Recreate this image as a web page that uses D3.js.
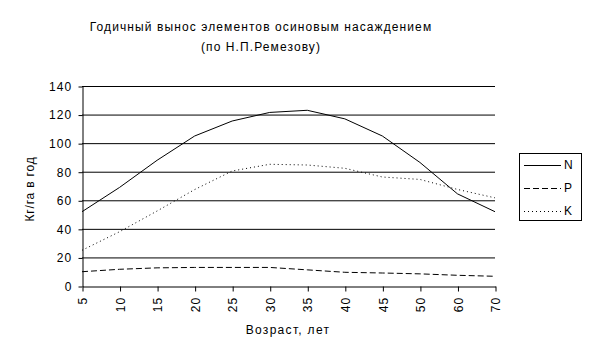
<!DOCTYPE html>
<html><head><meta charset="utf-8">
<script src="https://cdn.jsdelivr.net/npm/d3@7"></script>
<style>
body{margin:0;background:#fff;}
svg{display:block;font-family:Arial,"Liberation Sans",sans-serif;}
</style></head>
<body>
<svg id="c" width="590" height="359"></svg>
<script>
const categories = ["5","10","15","20","25","30","35","40","45","50","60","70"];
const nValues = [52, 69, 88, 105, 115.5, 121.5, 123, 117, 105, 86.5, 64.5, 52];
const pValues = [10, 11.7, 12.7, 13, 13, 13, 11.3, 9.6, 9.1, 8.5, 7.5, 6.8];
const kValues = [25, 38, 52.5, 67.5, 80.5, 85.2, 84.7, 82.4, 76.3, 74.6, 67.6, 61.7];
const yTicks = [0, 20, 40, 60, 80, 100, 120, 140];
const seriesNames = ["N", "P", "K"];
const titleLines = ["Годичный вынос элементов осиновым насаждением", "(по Н.П.Ремезову)"];
const xTitle = "Возраст, лет";
const yTitle = "Кг/га в год";

const svg = d3.select("#c");
const L = 82, R = 495, T = 86, B = 286;
const x = d3.scalePoint().domain(categories).range([L, R]);
const y = d3.scaleLinear().domain([0, 140]).range([B, T]);

const styles = {N: null, P: "6,3", K: "1,3"};
const data = {N: nValues, P: pValues, K: kValues};

// title
svg.append("g").selectAll("text").data(titleLines).join("text")
  .attr("x", 261).attr("y", (d,i) => 31 + i*20)
  .attr("text-anchor", "middle").attr("font-size", 12).attr("letter-spacing", 1.1)
  .text(d => d);

// gridlines
svg.append("g").selectAll("line").data(yTicks.filter(v => v > 0)).join("line")
  .attr("x1", L).attr("x2", R).attr("y1", d => y(d)+0.5).attr("y2", d => y(d)+0.5)
  .attr("stroke", "#000").attr("stroke-width", 1);

// y axis
const ya = svg.append("g").attr("transform", `translate(${L+0.5},0.5)`)
  .call(d3.axisLeft(y).tickValues(yTicks).tickSize(4).tickSizeOuter(0).tickPadding(6));
ya.select(".domain").attr("stroke", "#000");
ya.selectAll("text").attr("font-size", 12).attr("letter-spacing", 1.2).attr("fill", "#000")
  .attr("font-family", "Arial, 'Liberation Sans', sans-serif");

// x axis
const xa = svg.append("g").attr("transform", `translate(0.5,${B+0.5})`)
  .call(d3.axisBottom(x).tickSize(5).tickSizeOuter(0).tickPadding(5));
xa.select(".domain").attr("stroke", "#000");
xa.selectAll("text").attr("font-size", 12).attr("letter-spacing", 1.2).attr("fill", "#000")
  .attr("font-family", "Arial, 'Liberation Sans', sans-serif")
  .attr("transform", "rotate(-90)").attr("text-anchor", "end")
  .attr("dy", "0.35em").attr("x", -10).attr("y", 0);

// axis titles
svg.append("text").attr("x", 288).attr("y", 334).attr("text-anchor", "middle")
  .attr("font-size", 12).attr("letter-spacing", 1.3).text(xTitle);
svg.append("text").attr("transform", "translate(34,189) rotate(-90)").attr("text-anchor", "middle")
  .attr("font-size", 12).attr("letter-spacing", 0.8).text(yTitle);

// lines
const line = d3.line().x((d,i) => x(categories[i])).y(d => y(d));
seriesNames.forEach(s => {
  svg.append("path").datum(data[s]).attr("d", line)
    .attr("fill", "none").attr("stroke", "#000").attr("stroke-width", 1)
    .attr("stroke-dasharray", styles[s]);
});

// legend
svg.append("rect").attr("x", 519.5).attr("y", 153.5).attr("width", 62).attr("height", 67)
  .attr("fill", "#fff").attr("stroke", "#000");
const lg = svg.append("g").selectAll("g").data(seriesNames).join("g")
  .attr("transform", (d,i) => `translate(0,${165 + i*23})`);
lg.append("line").attr("x1", 524).attr("x2", 561).attr("y1", 0.5).attr("y2", 0.5)
  .attr("stroke", "#000").attr("stroke-dasharray", d => styles[d]);
lg.append("text").attr("x", 564).attr("y", 0).attr("dy", "0.35em").attr("font-size", 12).text(d => d);
</script>
</body></html>
